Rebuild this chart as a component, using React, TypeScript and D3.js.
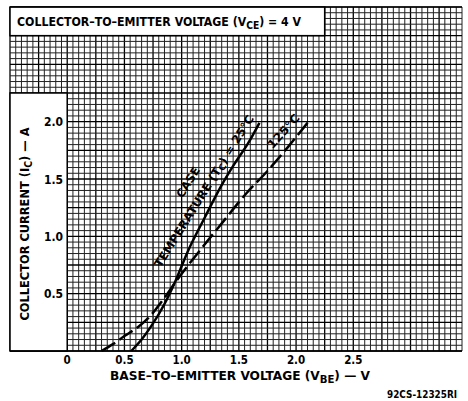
import React from 'react';
import * as d3 from 'd3';

// Ic vs Vbe, Vce = 4 V
const vbe25 = [0.56, 0.65, 0.73, 0.85, 0.95, 1.05, 1.2, 1.34, 1.46, 1.58, 1.68];
const ic25 = [0, 0.1, 0.21, 0.41, 0.62, 0.86, 1.16, 1.43, 1.63, 1.81, 1.99];

const vbe125 = [0.3, 0.4, 0.5, 0.62, 0.73, 0.84, 0.96, 1.17, 1.34, 1.57, 1.75, 1.93, 2.1];
const ic125 = [0, 0.06, 0.13, 0.21, 0.31, 0.45, 0.62, 0.89, 1.1, 1.38, 1.57, 1.78, 1.99];

const xTicks = [0, 0.5, 1.0, 1.5, 2.0, 2.5];
const xTickLabels = ['0', '0.5', '1.0', '1.5', '2.0', '2.5'];
const yTicks = [0.5, 1.0, 1.5, 2.0];
const yTickLabels = ['0.5', '1.0', '1.5', '2.0'];

const width = 468;
const height = 401;
const font = "'DejaVu Sans Condensed', 'Liberation Sans Narrow', Arial, sans-serif";

export default function App() {
  const x = d3.scaleLinear().domain([-0.5, 3.45]).range([10, 462]);
  const y = d3.scaleLinear().domain([0, 3.0]).range([351, 7]);

  // grid lines every 0.05
  const xGrid = d3.range(0, 80).map((i) => -0.5 + i * 0.05);
  const yGrid = d3.range(0, 61).map((i) => i * 0.05);

  const line = d3
    .line<number>()
    .x((d) => x(d))
    .curve(d3.curveMonotoneX);

  const path25 = line.y((d, i) => y(ic25[i]))(vbe25);
  const path125 = line.y((d, i) => y(ic125[i]))(vbe125);

  return (
    <svg
      width={width}
      height={height}
      style={{ position: 'absolute', left: 0, top: 0, background: '#fff' }}
      fontFamily={font}
      fontWeight="bold"
    >
      <rect width={width} height={height} fill="#fff" />

      {/* grid */}
      <g>
        {xGrid.map((v, i) => (
          <line
            key={'gx' + i}
            x1={x(v)}
            x2={x(v)}
            y1={y(3.0)}
            y2={y(0)}
            stroke={i % 5 === 0 ? '#000' : '#222'}
            strokeWidth={i % 5 === 0 ? 1.3 : 1}
          />
        ))}
        {yGrid.map((v, i) => (
          <line
            key={'gy' + i}
            x1={x(-0.5)}
            x2={462}
            y1={y(v)}
            y2={y(v)}
            stroke={i % 5 === 0 ? '#000' : '#222'}
            strokeWidth={i % 5 === 0 ? 1.3 : 1}
          />
        ))}
      </g>

      {/* title box and axis box */}
      <rect
        x={x(-0.5)}
        y={y(3.0)}
        width={x(2.25) - x(-0.5)}
        height={y(2.75) - y(3.0)}
        fill="#fff"
        stroke="#000"
        strokeWidth={1.5}
      />
      <rect
        x={x(-0.5)}
        y={y(2.25)}
        width={x(0) - x(-0.5)}
        height={y(0) - y(2.25)}
        fill="#fff"
        stroke="#000"
        strokeWidth={1.5}
      />
      <line x1={x(-0.5)} x2={462} y1={y(0)} y2={y(0)} stroke="#000" strokeWidth={1.5} />
      <line x1={x(-0.5)} x2={462} y1={y(3.0)} y2={y(3.0)} stroke="#000" strokeWidth={1.2} />

      <text x={17} y={26} fontSize={12} textLength={284} lengthAdjust="spacingAndGlyphs">
        COLLECTOR–TO–EMITTER VOLTAGE (V
        <tspan fontSize={10} dy={3}>CE</tspan>
        <tspan dy={-3}>) = 4 V</tspan>
      </text>

      {/* curves */}
      <path d={path25 || ''} fill="none" stroke="#000" strokeWidth={2.5} />
      <path d={path125 || ''} fill="none" stroke="#000" strokeWidth={2.5} strokeDasharray="16,5" />

      {/* curve labels */}
      <text
        transform="translate(191.5,184.4) rotate(-58)"
        textAnchor="middle"
        fontSize={11.5}
        textLength={34}
        lengthAdjust="spacingAndGlyphs"
      >
        CASE
      </text>
      <text
        transform="translate(207.5,193.3) rotate(-58)"
        textAnchor="middle"
        fontSize={11.5}
        textLength={177}
        lengthAdjust="spacingAndGlyphs"
      >
        TEMPERATURE (T
        <tspan fontSize={9} dy={2}>C</tspan>
        <tspan dy={-2}>) = 25°C</tspan>
      </text>
      <text
        transform="translate(286.5,134) rotate(-48)"
        textAnchor="middle"
        fontSize={11.5}
        textLength={42}
        lengthAdjust="spacingAndGlyphs"
      >
        125°C
      </text>

      {/* ticks */}
      {xTicks.map((v, i) => (
        <text key={'xt' + i} x={x(v)} y={364} textAnchor="middle" fontSize={11.5}>
          {xTickLabels[i]}
        </text>
      ))}
      {yTicks.map((v, i) => (
        <text key={'yt' + i} x={63} y={y(v) + 4.5} textAnchor="end" fontSize={12}>
          {yTickLabels[i]}
        </text>
      ))}

      {/* axis titles */}
      <text
        transform="translate(29,224) rotate(-90)"
        textAnchor="middle"
        fontSize={12}
        textLength={193}
        lengthAdjust="spacingAndGlyphs"
      >
        COLLECTOR CURRENT (I
        <tspan fontSize={10} dy={3}>C</tspan>
        <tspan dy={-3}>) — A</tspan>
      </text>
      <text x={110} y={380} fontSize={12} textLength={260} lengthAdjust="spacingAndGlyphs">
        BASE–TO–EMITTER VOLTAGE (V
        <tspan fontSize={10} dy={3}>BE</tspan>
        <tspan dy={-3}>) — V</tspan>
      </text>

      <text x={387} y={398} fontSize={10} textLength={70} lengthAdjust="spacingAndGlyphs">
        92CS-12325RI
      </text>
    </svg>
  );
}
